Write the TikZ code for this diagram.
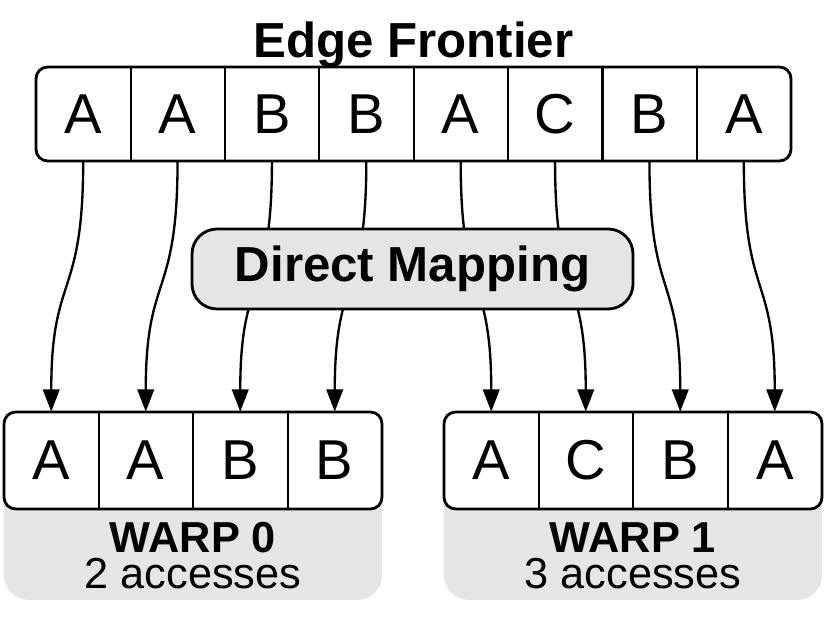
\documentclass[tikz,border=0pt]{standalone}
\usepackage{fontspec}
\setmainfont{Liberation Sans}
\usetikzlibrary{arrows.meta,positioning}
\definecolor{panelgray}{HTML}{E5E5E5}

\begin{document}
\begin{tikzpicture}[
    x=0.03cm, y=0.03cm,
    strip/.style={draw, fill=white, line width=2.4pt, rounded corners=10pt, inner sep=0pt},
    cell/.style={inner sep=0pt, minimum width=2.832cm, font=\fontsize{48}{48}\selectfont},
    divider/.style={line width=1.8pt},
    panel/.style={fill=panelgray, rounded corners=0.75cm, inner sep=0pt,
                  minimum width=11.34cm, minimum height=4.17cm},
    mapbox/.style={draw, fill=panelgray, line width=2.4pt, rounded corners=0.75cm,
                   minimum width=13.23cm, minimum height=2.4cm,
                   font=\fontsize{42}{42}\selectfont\bfseries},
    title/.style={font=\fontsize{42}{42}\selectfont\bfseries, inner sep=0pt},
    warplabel/.style={inner sep=0pt, font=\fontsize{37}{37}\selectfont},
    flow/.style={line width=2pt, -{Triangle[length=19pt,width=14pt]}}]

  \fill[white] (0,0) rectangle (831,621);
  \useasboundingbox (0,0) rectangle (831,621);

  % frontier strip
  \node[strip, minimum width=22.65cm, minimum height=2.82cm] (frontier) at (413.5,507) {};
  \node[title, anchor=base] (title) at ([yshift=0.24cm]frontier.north) {Edge Frontier};
  \foreach \l [count=\i] in {A,A,B,B,A,C,B,A}
    \node[cell, minimum height=2.82cm] (f\i) at ({36+94.375*(\i-0.5)},507) {\l};

  % warps
  \node[panel] (panel0) at (193,90.5) {};
  \node[panel] (panel1) at (633,90.5) {};
  \node[strip, minimum width=11.34cm, minimum height=2.91cm] (warp0) at (193,160.5) {};
  \node[strip, minimum width=11.34cm, minimum height=2.91cm] (warp1) at (633,160.5) {};
  \foreach \l [count=\i] in {A,A,B,B}
    \node[cell, minimum height=2.91cm] (w\i) at ({4+94.5*(\i-0.5)},160.5) {\l};
  \foreach \l [count=\i from 5] in {A,C,B,A}
    \node[cell, minimum height=2.91cm] (w\i) at ({444+94.5*(\i-4.5)},160.5) {\l};
  \node[warplabel, anchor=base] (name0) at (193,68) {\bfseries WARP 0};
  \node[warplabel, anchor=base] (count0) at (193,32) {2 accesses};
  \node[warplabel, anchor=base] (name1) at (633,68) {\bfseries WARP 1};
  \node[warplabel, anchor=base] (count1) at (633,32) {3 accesses};

  \foreach \i in {1,...,7}
    \draw[divider] (f\i.north east) -- (f\i.south east);
  \foreach \i in {1,2,3,5,6,7}
    \draw[divider] (w\i.north east) -- (w\i.south east);

  \foreach \i in {1,...,8}
    \draw[flow] (f\i.south) .. controls +(0,-140) and +(0,140) .. (w\i.north);

  \node[mapbox] (mapping) at (412.5,352) {Direct Mapping};
\end{tikzpicture}
\end{document}
